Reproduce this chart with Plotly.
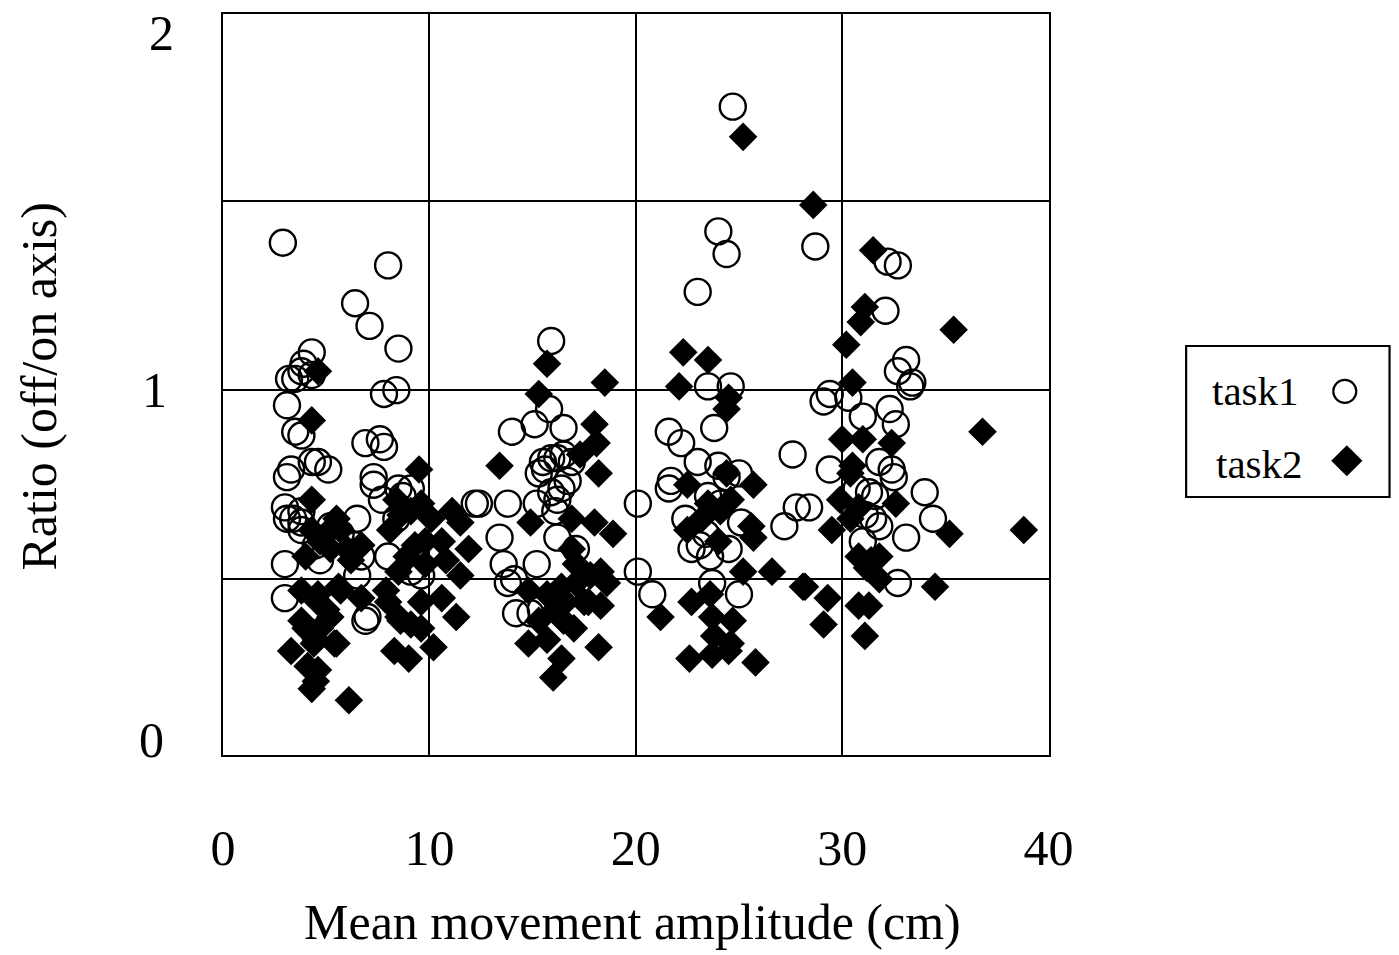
import plotly.graph_objects as go

# task1 (open circles)
task1_x = [2.9, 8.0, 6.4, 7.1, 8.5, 4.3, 3.9, 3.2, 3.5, 4.3, 3.8, 7.8, 8.4, 3.1, 3.8, 3.5, 6.9, 7.6, 7.8,
           4.3, 4.6, 3.3, 5.1, 7.3, 3.1, 7.3, 8.5, 9.1, 3.0, 3.4, 3.1, 6.5, 5.2, 12.2, 3.0, 4.7, 6.7, 8.0,
           9.1, 3.0, 7.0, 6.9, 3.8, 5.7, 4.5, 6.5, 9.6, 8.7, 3.8, 7.7, 8.4, 6.4, 3.8,
           15.9, 15.8, 15.1, 14.0, 16.5, 15.5, 15.9, 16.2, 16.5, 15.6, 15.3, 12.4, 13.8, 15.2, 15.9, 16.2,
           16.4, 16.1, 16.2, 17.1, 13.4, 13.6, 15.2, 14.1, 13.8, 14.2, 14.9, 15.4, 20.1, 20.1, 20.8, 16.9, 16.7,
           24.7, 24.0, 24.4, 23.0, 28.7, 23.5, 24.6, 23.8, 21.6, 22.2, 23.0, 24.0, 25.0, 27.6, 21.7, 24.4,
           27.8, 27.2, 22.4, 23.4, 25.1, 22.7, 23.6, 24.5, 23.7, 25.0, 23.5, 24.1, 21.6, 23.1,
           32.2, 32.7, 32.1, 33.1, 32.7, 33.4, 33.3, 29.4, 29.1, 30.3, 31.0, 32.3, 32.6, 29.4, 32.4, 31.8,
           32.5, 34.0, 34.4, 28.4, 31.3, 31.6, 31.5, 31.1, 31.0, 33.1, 32.7, 30.7, 31.8]
task1_y = [1.39, 1.33, 1.23, 1.17, 1.11, 1.10, 1.07, 1.03, 1.03, 1.04, 1.05, 0.99, 1.00, 0.96, 0.88, 0.89, 0.86, 0.87, 0.85,
           0.81, 0.81, 0.79, 0.79, 0.77, 0.77, 0.75, 0.74, 0.74, 0.69, 0.66, 0.66, 0.66, 0.64, 0.70, 0.54, 0.55, 0.56, 0.56,
           0.52, 0.45, 0.40, 0.39, 0.63, 0.62, 0.59, 0.51, 0.51, 0.72, 0.65, 0.71, 0.66, 0.59, 0.68,
           1.13, 0.95, 0.91, 0.89, 0.90, 0.81, 0.82, 0.82, 0.83, 0.79, 0.78, 0.70, 0.70, 0.70, 0.73, 0.71,
           0.74, 0.68, 0.61, 0.58, 0.61, 0.54, 0.54, 0.50, 0.49, 0.41, 0.41, 0.42, 0.70, 0.52, 0.46, 0.81, 0.76,
           1.75, 1.42, 1.36, 1.26, 1.38, 1.01, 1.01, 0.90, 0.89, 0.86, 0.81, 0.80, 0.78, 0.83, 0.76, 0.77,
           0.69, 0.64, 0.66, 0.62, 0.65, 0.58, 0.56, 0.58, 0.49, 0.46, 0.72, 0.70, 0.74, 0.59,
           1.34, 1.33, 1.21, 1.08, 1.05, 1.02, 1.01, 0.99, 0.97, 0.98, 0.93, 0.95, 0.91, 0.79, 0.79, 0.81,
           0.77, 0.73, 0.66, 0.69, 0.73, 0.72, 0.66, 0.67, 0.60, 0.61, 0.49, 0.74, 0.64]

# task2 (filled diamonds)
task2_x = [4.6, 4.3, 9.5, 4.3, 3.3, 4.1, 4.5, 4.3, 6.1, 9.0, 10.2, 8.3, 11.5, 11.3, 10.6, 11.9, 11.5, 11.1,
           3.8, 5.2, 4.5, 5.5, 5.0, 5.7, 7.9, 8.5, 9.1, 9.6, 9.8, 8.9, 8.1, 9.1, 10.1, 10.6, 8.4, 4.3, 4.7,
           5.2, 5.7, 4.0, 6.2, 6.7, 3.8, 4.6, 9.6, 10.8, 4.0, 4.7, 4.4, 5.4, 4.6, 8.6, 8.0, 6.7, 5.6, 4.6,
           9.6, 5.0, 5.5, 6.0, 8.6, 9.3, 8.5, 9.8,
           15.7, 15.3, 18.5, 18.0, 18.1, 17.3, 13.4, 18.2, 14.9, 16.9, 18.0, 18.9, 16.9, 18.3, 18.6, 14.8,
           15.7, 16.4, 17.7, 18.3, 15.3, 16.5, 17.0, 14.8, 15.7, 18.2, 16.4, 16.0, 17.1, 17.8, 17.5, 17.1,
           16.6, 16.1,
           25.2, 28.6, 22.3, 23.5, 22.1, 24.5, 24.4, 22.5, 25.7, 23.5, 24.1, 25.6, 25.7, 22.5, 25.2, 26.6,
           28.1, 21.2, 22.7, 23.7, 24.7, 24.6, 22.6, 23.7, 24.5, 25.8, 24.4, 23.2, 24.0, 23.8, 24.6, 23.6,
           31.5, 31.1, 30.9, 35.4, 30.2, 30.5, 30.0, 31.0, 32.4, 36.8, 30.5, 29.9, 30.8, 32.6, 29.5, 35.2,
           38.8, 30.8, 31.8, 31.2, 31.8, 34.5, 28.2, 29.3, 30.8, 31.3, 29.1, 31.1, 30.4, 30.4, 31.4]
task2_y = [1.05, 0.92, 0.79, 0.71, 0.31, 0.27, 0.23, 0.21, 0.18, 0.29, 0.32, 0.31, 0.51, 0.40, 0.45, 0.58, 0.65, 0.68,
           0.39, 0.40, 0.34, 0.33, 0.42, 0.47, 0.47, 0.40, 0.38, 0.44, 0.60, 0.56, 0.63, 0.68, 0.66, 0.60, 0.71, 0.63, 0.60,
           0.58, 0.63, 0.56, 0.55, 0.59, 0.47, 0.44, 0.70, 0.55, 0.37, 0.37, 0.33, 0.33, 0.26, 0.39, 0.44, 0.45, 0.48, 0.46,
           0.37, 0.62, 0.66, 0.58, 0.67, 0.59, 0.52, 0.54,
           1.07, 0.99, 1.02, 0.91, 0.86, 0.83, 0.80, 0.78, 0.65, 0.66, 0.65, 0.62, 0.58, 0.52, 0.49, 0.47,
           0.46, 0.48, 0.44, 0.43, 0.39, 0.39, 0.37, 0.33, 0.34, 0.32, 0.29, 0.24, 0.49, 0.51, 0.44, 0.54,
           0.44, 0.42,
           1.67, 1.49, 1.10, 1.08, 1.01, 0.98, 0.95, 0.75, 0.75, 0.70, 0.68, 0.64, 0.61, 0.63, 0.52, 0.52,
           0.48, 0.40, 0.44, 0.40, 0.39, 0.33, 0.29, 0.30, 0.31, 0.28, 0.78, 0.66, 0.60, 0.35, 0.71, 0.46,
           1.37, 1.22, 1.18, 1.16, 1.12, 1.02, 0.87, 0.87, 0.86, 0.89, 0.80, 0.71, 0.69, 0.70, 0.63, 0.62,
           0.63, 0.56, 0.56, 0.53, 0.50, 0.48, 0.48, 0.45, 0.43, 0.43, 0.38, 0.35, 0.78, 0.66, 0.55]

x_ticks = [0, 10, 20, 30, 40]
y_ticks = [0, 1, 2]
series_names = ["task1", "task2"]

# the page's body margin is removed (post_script); the capture appears slightly
# compressed horizontally, so horizontal layout positions are scaled accordingly
OFF = 0
SX = 0.982
W, H = 1418, 955


def fx(px):
    """reference pixel x -> figure pixel x"""
    return (px - 3) / SX - OFF


def fy(py):
    """reference pixel y -> figure pixel y"""
    return py - OFF


ML = fx(222)
MT = fy(14)
plot_bottom = fy(755)
MB = H - plot_bottom
PW = W - ML            # plotting area width (right margin 0)
dom_x = (fx(1050) - ML) / PW
plot_h = H - MT - MB

FONT = "Liberation Serif, Times New Roman, serif"


def px_to_paper_x(px):
    return (fx(px) - ML) / PW


def px_to_paper_y(py):
    return (plot_bottom - fy(py)) / plot_h


def clamp(v):
    return max(0.0, min(1.0, v))


fig = go.Figure()
fig.add_trace(go.Scatter(
    x=task1_x, y=task1_y, mode="markers", name=series_names[0],
    marker=dict(symbol="circle-open", size=26, color="black", line=dict(width=2.4, color="black")),
    showlegend=False, xaxis="x", yaxis="y"))
fig.add_trace(go.Scatter(
    x=task2_x, y=task2_y, mode="markers", name=series_names[1],
    marker=dict(symbol="diamond", size=22, color="black", line=dict(width=0)),
    showlegend=False, xaxis="x", yaxis="y"))

# legend (symbols to the right of the text), drawn on a helper axis
lx0, lx1, ly0, ly1 = 1188, 1392, 346, 497
fig.add_trace(go.Scatter(x=[0.78], y=[0.70], mode="markers", showlegend=False, hoverinfo="skip",
                         marker=dict(symbol="circle-open", size=23, color="black", line=dict(width=2.2)),
                         xaxis="x2", yaxis="y2"))
fig.add_trace(go.Scatter(x=[0.79], y=[0.24], mode="markers", showlegend=False, hoverinfo="skip",
                         marker=dict(symbol="diamond", size=24, color="black"),
                         xaxis="x2", yaxis="y2"))

annotations = [
    dict(text="task1", x=0.34, y=0.70, xref="x2", yref="y2", showarrow=False,
         font=dict(family=FONT, size=41, color="black"), xanchor="center", yanchor="middle"),
    dict(text="task2", x=0.36, y=0.22, xref="x2", yref="y2", showarrow=False,
         font=dict(family=FONT, size=41, color="black"), xanchor="center", yanchor="middle"),
    dict(text="Mean movement amplitude (cm)", x=px_to_paper_x(633), y=px_to_paper_y(922),
         xref="paper", yref="paper", showarrow=False, xanchor="center", yanchor="middle",
         font=dict(family=FONT, size=50, color="black")),
    dict(text="Ratio (off/on axis)", x=px_to_paper_x(37), y=px_to_paper_y(387), textangle=-90,
         xref="paper", yref="paper", showarrow=False, xanchor="center", yanchor="middle",
         font=dict(family=FONT, size=50, color="black")),
]
for val, (pxx, pyy) in zip(y_ticks, [(150, 740), (153, 390), (160, 33)]):
    annotations.append(dict(text=str(val), x=px_to_paper_x(pxx), y=px_to_paper_y(pyy),
                            xref="paper", yref="paper", showarrow=False, xanchor="center", yanchor="middle",
                            font=dict(family=FONT, size=50, color="black")))

fig.update_layout(
    width=W, height=H,
    margin=dict(l=ML, r=0, t=MT, b=MB, pad=0),
    paper_bgcolor="white", plot_bgcolor="white",
    font=dict(family=FONT, color="black"),
    showlegend=False,
    hovermode=False,
    xaxis=dict(domain=[0, clamp(dom_x)], range=[0, 40], tickvals=x_ticks, ticktext=[str(v) for v in x_ticks],
               showgrid=True, gridcolor="black", gridwidth=1.6, zeroline=False,
               showline=True, linecolor="black", linewidth=2.2, mirror=True,
               ticks="", ticklabelstandoff=48, tickfont=dict(family=FONT, size=50, color="black")),
    yaxis=dict(domain=[0, 1], range=[0.035, 1.995], tickvals=[0.5, 1.0, 1.5], showticklabels=False,
               showgrid=True, gridcolor="black", gridwidth=1.6, zeroline=False,
               showline=True, linecolor="black", linewidth=2.2, mirror=True, ticks=""),
    xaxis2=dict(domain=[clamp(px_to_paper_x(lx0)), clamp(px_to_paper_x(lx1))], range=[0, 1], anchor="y2",
                visible=False, fixedrange=True),
    yaxis2=dict(domain=[clamp(px_to_paper_y(ly1)), clamp(px_to_paper_y(ly0))], range=[0, 1], anchor="x2",
                visible=False, fixedrange=True),
    shapes=[dict(type="rect", xref="x2 domain", yref="y2 domain", x0=0, x1=1, y0=0, y1=1,
                 line=dict(color="black", width=2.2), fillcolor="rgba(0,0,0,0)")],
    annotations=annotations,
)

fig.write_html("out.html",
               config={"displayModeBar": False},
               post_script="document.body.style.margin='0';document.body.style.overflow='hidden';")
